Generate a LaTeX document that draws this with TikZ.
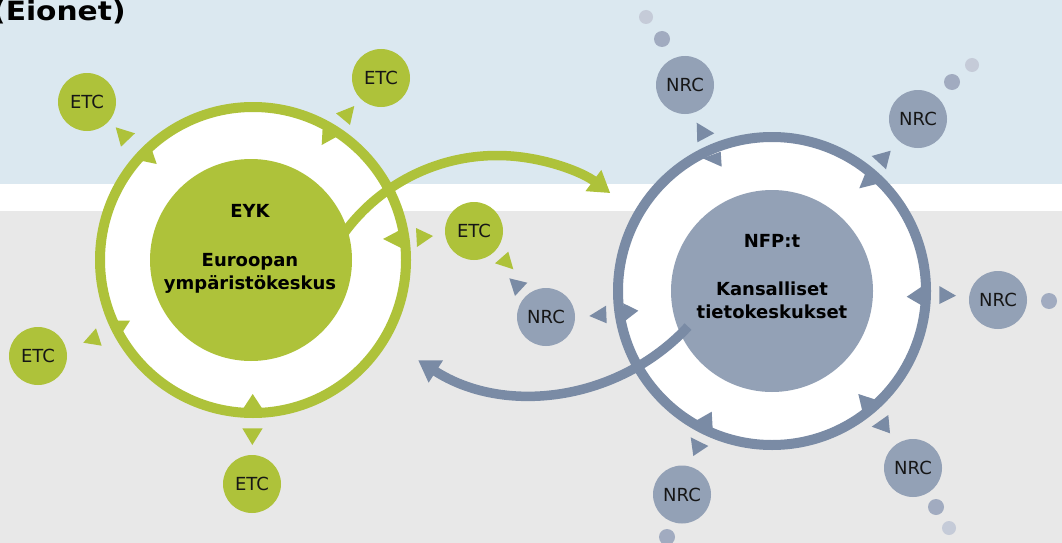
\documentclass[tikz,border=0pt]{standalone}
\usepackage{fontspec}
\setmainfont{DejaVu Sans}
\usetikzlibrary{arrows.meta}
\definecolor{eeagreen}{RGB}{174,194,58}
\definecolor{ringgrey}{RGB}{122,139,165}
\definecolor{nrcfill}{RGB}{147,161,182}
\definecolor{skyband}{RGB}{219,232,240}
\definecolor{greyband}{RGB}{232,232,232}
\definecolor{dotdark}{RGB}{161,171,192}
\definecolor{dotlight}{RGB}{197,203,216}
\definecolor{txtcol}{RGB}{22,22,22}
\begin{document}
\begin{tikzpicture}[x=1pt,y=-1pt,
  smallhub/.style={circle,minimum size=58pt,inner sep=0pt,text=txtcol,font=\fontsize{18}{20}\selectfont},
  etcnode/.style={smallhub,fill=eeagreen},
  nrcnode/.style={smallhub,fill=nrcfill},
  bighub/.style={circle,minimum size=202pt,inner sep=0pt},
  hubtext/.style={anchor=base,inner sep=0pt,text=black,font=\fontsize{18}{22}\selectfont\bfseries},
  ringline/.style={line width=10pt},
  flowarc/.style={line width=9.5pt,-{Triangle[length=21pt,width=25pt]}},
  dotnode/.style={circle,inner sep=0pt,minimum size=16pt},
  farnode/.style={circle,inner sep=0pt,minimum size=14pt,fill=dotlight}
]
\useasboundingbox (0,0) rectangle (1062,543);
\clip (0,0) rectangle (1062,543);
% backgrounds
\fill[greyband] (0,0) rectangle (1062,543);
\fill[skyband] (0,0) rectangle (1062,184);
\fill[white] (0,184) rectangle (1062,211);
% title
\node[anchor=base west,inner sep=0pt,font=\fontsize{26.5}{30}\selectfont\bfseries] (title) at (-8,21) {\scalebox{1.12}[1]{(Eionet)}};

% left ring (EYK)
\fill[white] (253,260) circle (153);
\draw[eeagreen,ringline] (253,260) circle (153);
\node[bighub,fill=eeagreen] (eyk) at (251,260) {};
% right ring (NFP)
\fill[white] (772,291) circle (154);
\draw[ringgrey,ringline] (772,291) circle (154);
\node[bighub,fill=nrcfill] (nfp) at (772,291) {};

% flow arcs
\coordinate (gcen) at (497,345);
\coordinate (bcen) at (533,182);
\draw[eeagreen,flowarc] (gcen) ++(-145:189.5) arc[start angle=-145,end angle=-53.3,radius=189.5];
\draw[ringgrey,flowarc] (bcen) ++(43:212) arc[start angle=43,end angle=122.8,radius=212];

% hub texts
\node[hubtext] (eyk1) at (250,217) {EYK};
\node[hubtext] (eyk2) at (250,266) {Euroopan};
\node[hubtext] (eyk3) at (250,289) {ympäristökeskus};
\node[hubtext] (nfp1) at (772,247) {NFP:t};
\node[hubtext] (nfp2) at (772,295) {Kansalliset};
\node[hubtext] (nfp3) at (772,318) {tietokeskukset};

% green arrowheads around left ring
\fill[eeagreen] (115.7,127.3) -- (135,133.3) -- (121,146.7) -- cycle;
\fill[eeagreen] (137.7,160) -- (151.7,149.3) -- (156.7,164) -- cycle;
\fill[eeagreen] (336,113.3) -- (354.3,106) -- (350,125) -- cycle;
\fill[eeagreen] (322.7,126.7) -- (336.7,136.7) -- (321.7,145) -- cycle;
\fill[eeagreen] (416,228) -- (433,236) -- (417,247) -- cycle;
\fill[eeagreen] (383,239) -- (400,230) -- (401,248) -- cycle;
\fill[eeagreen] (83.3,342.7) -- (101.7,345.7) -- (96,328.3) -- cycle;
\fill[eeagreen] (111,320.7) -- (130,320.7) -- (120.7,335) -- cycle;
\fill[eeagreen] (242.3,428.3) -- (262.7,428.3) -- (252.3,445) -- cycle;
\fill[eeagreen] (242.7,409.3) -- (252.7,394) -- (262.7,409.3) -- cycle;
\fill[eeagreen] (495,263.3) -- (508.3,251.7) -- (513.3,269.3) -- cycle;
% grey arrowheads around right ring
\fill[ringgrey] (509.3,278.3) -- (527.3,282.7) -- (515,296) -- cycle;
\fill[ringgrey] (589.3,316) -- (606,305.7) -- (606.7,323.3) -- cycle;
\fill[ringgrey] (623.3,303.3) -- (638.3,310.7) -- (624,321.7) -- cycle;
\fill[ringgrey] (696.7,122.7) -- (714.3,133.3) -- (697.3,142.3) -- cycle;
\fill[ringgrey] (702.7,158.3) -- (720.7,151.7) -- (721.7,166.7) -- cycle;
\fill[ringgrey] (871.7,156) -- (890.7,150.7) -- (886,169.3) -- cycle;
\fill[ringgrey] (859.3,188.3) -- (879.3,183.3) -- (866.7,170) -- cycle;
\fill[ringgrey] (906.7,296.7) -- (922.7,286) -- (922.7,306) -- cycle;
\fill[ringgrey] (939.3,286) -- (956,295.7) -- (939.3,304) -- cycle;
\fill[ringgrey] (696,420.7) -- (711.7,411.7) -- (712.7,429.3) -- cycle;
\fill[ringgrey] (690.7,437.3) -- (708.3,446) -- (693.3,456) -- cycle;
\fill[ringgrey] (858.3,394) -- (876.7,400) -- (862.7,412.7) -- cycle;
\fill[ringgrey] (871.7,426.7) -- (888.3,415) -- (890,433.3) -- cycle;

% ETC nodes
\node[etcnode] (etc1) at (87,102) {ETC};
\node[etcnode] (etc2) at (381,78) {ETC};
\node[etcnode] (etc3) at (474,231) {ETC};
\node[etcnode] (etc4) at (38,356) {ETC};
\node[etcnode] (etc5) at (252,484) {ETC};
% NRC nodes
\node[nrcnode] (nrc0) at (546,317) {NRC};
\node[nrcnode] (nrc1) at (685,85) {NRC};
\node[nrcnode] (nrc2) at (918,119) {NRC};
\node[nrcnode] (nrc3) at (998,300) {NRC};
\node[nrcnode] (nrc4) at (913,468) {NRC};
\node[nrcnode] (nrc5) at (682,494.5) {NRC};
% dots
\node[dotnode,fill=dotdark] (d1a) at (662,39) {};
\node[farnode] (d1b) at (646,17) {};
\node[dotnode,fill=dotdark] (d2a) at (952,82) {};
\node[farnode] (d2b) at (972,65) {};
\node[dotnode,fill=dotdark] (d3a) at (1049,301) {};
\node[dotnode,fill=dotdark] (d4a) at (936,507) {};
\node[farnode] (d4b) at (949,528) {};
\node[dotnode,fill=dotdark] (d5a) at (667,537) {};
\end{tikzpicture}
\end{document}
